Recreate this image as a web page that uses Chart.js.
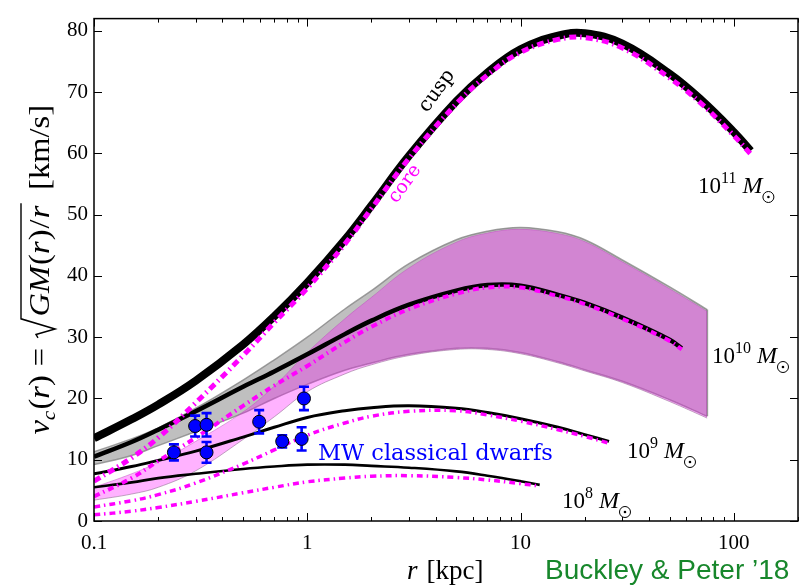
<!DOCTYPE html>
<html><head><meta charset="utf-8">
<script src="https://cdn.jsdelivr.net/npm/chart.js@4.4.1/dist/chart.umd.min.js"></script>
<style>html,body{margin:0;padding:0;background:#fff;}</style>
</head><body>
<canvas id="c" width="806" height="585"></canvas>
<script>
// ---------------- data ----------------
const r11 = [0.1,0.15,0.2,0.3,0.5,0.7,1,1.5,2,3,5,7,10,15,20,30,50,70,100,120];
const cusp11 = [13.5,16.6,19.0,22.9,28.8,33.4,38.9,45.9,51.5,59.6,68.5,73.2,77.0,79.2,79.6,77.9,73.0,68.8,63.5,60.4];
const core11 = [6.5,10.3,13.6,19.3,27.0,32.4,38.0,45.2,51.0,59.2,68.1,72.8,76.5,78.6,78.9,77.2,72.3,68.2,62.9,59.9];

const r10 = [0.1,0.15,0.2,0.3,0.5,0.7,1,1.5,2,3,5,7,10,15,20,30,50,57];
const cusp10 = [10.5,12.9,14.9,17.9,21.9,24.4,27.2,30.5,32.7,35.3,37.6,38.5,38.4,36.9,35.6,33.2,29.6,28.2];
const core10 = [4.0,7.0,9.8,13.6,18.8,22.1,25.3,29.2,31.7,34.6,37.1,38.1,38.1,36.7,35.4,33.0,29.4,28.0];

const rBand = [0.1,0.15,0.2,0.3,0.5,0.7,1,1.5,2,3,5,7,10,15,20,30,50,75];
const grayHi = [11.3,13.4,15.2,18.4,23.0,26.3,30.0,34.6,37.6,42.0,45.9,47.3,47.9,47.2,45.9,42.6,38.2,34.5];
const grayLo = [9.2,10.7,12.3,14.6,17.6,20.0,22.3,24.6,25.8,27.2,28.2,28.2,27.5,26.0,24.7,22.8,19.8,17.1];
const pinkHi = [5.5,7.7,9.6,13.0,17.8,22.0,27.5,33.0,36.5,41.3,45.5,47.0,47.6,46.9,45.6,42.3,37.9,34.2];
const pinkLo = [3.4,4.4,5.5,8.2,13.3,17.0,21.1,24.0,25.5,27.0,28.0,28.0,27.3,25.8,24.5,22.6,19.5,16.8];

const r9 = [0.1,0.15,0.2,0.3,0.5,0.7,1,1.5,2,3,5,7,10,15,20,26];
const cusp9 = [7.7,8.9,9.9,11.4,13.7,15.3,16.9,18.0,18.5,18.8,18.4,17.7,16.7,15.3,14.1,13.0];
const core9 = [2.3,3.3,4.3,6.2,9.3,11.6,14.0,16.0,17.1,17.9,18.0,17.3,16.3,14.9,13.8,12.7];

const r8 = [0.1,0.15,0.2,0.3,0.5,0.7,1,1.5,2,3,5,7,10,12.3];
const cusp8 = [5.5,6.3,7.0,7.7,8.5,8.9,9.2,9.2,9.0,8.7,8.1,7.4,6.5,5.9];
const core8 = [1.0,1.6,2.2,3.2,4.6,5.5,6.4,7.0,7.3,7.4,7.1,6.7,6.1,5.7];

const dwarfR = [0.237,0.298,0.337,0.337,0.595,0.763,0.941,0.965];
const dwarfV = [11.2,15.5,15.7,11.2,16.2,13.0,13.4,20.0];
const dwarfErr = [1.3,1.7,1.9,1.7,1.9,1.0,1.9,1.9];

const xTickVals = [0.1,1,10,100];
const yTickVals = [0,10,20,30,40,50,60,70,80];
const massExps = ['11','10','9','8'];

// ---------------- chart ----------------
const pts = (xs, ys) => xs.map((x,i)=>({x:x, y:ys[i]}));
const last = a => a[a.length-1];
const MAG = '#ff00ff';

const datasets = [
  {data: pts(rBand, grayHi), showLine:true, borderColor:'rgba(128,128,128,0.75)', borderWidth:1.5, fill:false, order:100},
  {data: pts(rBand, grayLo), showLine:true, borderColor:'rgba(128,128,128,0.75)', borderWidth:1.5, fill:0, backgroundColor:'rgba(128,128,128,0.5)', order:99},
  {data: [{x:last(rBand), y:last(grayLo)},{x:last(rBand), y:last(grayHi)}], showLine:true, borderColor:'rgba(128,128,128,0.8)', borderWidth:2, order:98, tension:0},
  {data: pts(rBand, pinkHi), showLine:true, borderColor:'rgba(170,90,170,0.45)', borderWidth:1, fill:false, order:97},
  {data: pts(rBand, pinkLo), showLine:true, borderColor:'rgba(150,110,150,0.6)', borderWidth:1, fill:3, backgroundColor:'rgba(255,0,255,0.3)', order:96},
  {data: pts(r8, cusp8), showLine:true, borderColor:'#000', borderWidth:2.6, order:50},
  {data: pts(r8, core8), showLine:true, borderColor:MAG, borderWidth:3.5, borderDash:[6,4,1.5,4], borderCapStyle:'butt', order:49},
  {data: pts(r9, cusp9), showLine:true, borderColor:'#000', borderWidth:3, order:48},
  {data: pts(r9, core9), showLine:true, borderColor:MAG, borderWidth:3.5, borderDash:[6,4,1.5,4], borderCapStyle:'butt', order:47},
  {data: pts(r10, cusp10), showLine:true, borderColor:'#000', borderWidth:4.5, order:46},
  {data: pts(r10, core10), showLine:true, borderColor:MAG, borderWidth:4, borderDash:[6,4,1.5,4], borderCapStyle:'butt', order:45},
  {data: pts(r11, cusp11), showLine:true, borderColor:'#000', borderWidth:8, order:44},
  {data: pts(r11, core11), showLine:true, borderColor:MAG, borderWidth:5, borderDash:[7,4,1.5,4], borderCapStyle:'butt', order:43},
  {data: pts(dwarfR, dwarfV), showLine:false, pointRadius:6.5, pointBackgroundColor:'#0000ff', pointBorderColor:'#000', pointBorderWidth:1, order:1}
];
const POINTS_INDEX = datasets.length - 1;

function drawSun(ctx, cx, cy, rad){
  ctx.beginPath(); ctx.arc(cx, cy, rad, 0, Math.PI*2); ctx.lineWidth = 1; ctx.strokeStyle = '#000'; ctx.stroke();
  ctx.beginPath(); ctx.arc(cx, cy, 1.3, 0, Math.PI*2); ctx.fillStyle = '#000'; ctx.fill();
}
function massLabel(ctx, exp, x, y){
  ctx.fillStyle = '#000'; ctx.textBaseline = 'alphabetic'; ctx.textAlign = 'left';
  ctx.font = '23px "Liberation Serif"';
  ctx.fillText('10', x, y); let w = ctx.measureText('10').width;
  ctx.font = '16px "Liberation Serif"';
  ctx.fillText(exp, x + w, y - 10); w += ctx.measureText(exp).width + 6;
  ctx.font = 'italic 24px "Liberation Serif"';
  ctx.fillText('M', x + w, y); w += ctx.measureText('M').width + 6;
  drawSun(ctx, x + w, y + 4, 5.5);
}

const deco = {
  id: 'deco',
  beforeDatasetDraw(chart, args){
    if (args.index !== POINTS_INDEX) return;
    const ctx = chart.ctx, xs = chart.scales.x, ys = chart.scales.y;
    ctx.save(); ctx.strokeStyle = '#0000ff'; ctx.lineWidth = 2.6;
    dwarfR.forEach((r,i)=>{
      const px = xs.getPixelForValue(r);
      const y1 = ys.getPixelForValue(dwarfV[i]-dwarfErr[i]);
      const y2 = ys.getPixelForValue(dwarfV[i]+dwarfErr[i]);
      ctx.beginPath(); ctx.moveTo(px,y1); ctx.lineTo(px,y2);
      ctx.moveTo(px-5,y1); ctx.lineTo(px+5,y1); ctx.moveTo(px-5,y2); ctx.lineTo(px+5,y2); ctx.stroke();
    });
    ctx.restore();
  },
  afterDatasetsDraw(chart){
    const ctx = chart.ctx, a = chart.chartArea, xs = chart.scales.x, ys = chart.scales.y;
    ctx.save();
    ctx.strokeStyle = '#000'; ctx.lineWidth = 1.5;
    ctx.strokeRect(a.left, a.top, a.right - a.left, a.bottom - a.top);
    ctx.lineWidth = 1;
    ctx.beginPath();
    for (let d = -1; d <= 2; d++){
      for (let m = 1; m <= 9; m++){
        const v = m * Math.pow(10, d);
        if (v < 0.1 || v > 200) continue;
        const px = Math.round(xs.getPixelForValue(v)) + 0.5;
        const L = m === 1 ? 8 : 4;
        ctx.moveTo(px, a.bottom); ctx.lineTo(px, a.bottom - L);
        ctx.moveTo(px, a.top); ctx.lineTo(px, a.top + L);
      }
    }
    yTickVals.forEach(v=>{
      const py = Math.round(ys.getPixelForValue(v)) + 0.5;
      ctx.moveTo(a.left, py); ctx.lineTo(a.left + 8, py);
      ctx.moveTo(a.right, py); ctx.lineTo(a.right - 8, py);
    });
    ctx.stroke();
    ctx.restore();
  },
  afterDraw(chart){
    const ctx = chart.ctx, a = chart.chartArea;
    ctx.save();
    // mass labels
    massLabel(ctx, massExps[0], 698, 193);
    massLabel(ctx, massExps[1], 712, 363);
    massLabel(ctx, massExps[2], 627, 458);
    massLabel(ctx, massExps[3], 562, 508);
    // cusp / core
    const ang = -54 * Math.PI / 180;
    ctx.textAlign = 'center'; ctx.textBaseline = 'middle';
    ctx.save(); ctx.translate(437, 91); ctx.rotate(ang);
    ctx.font = '20px "DejaVu Serif"'; ctx.fillStyle = '#000'; ctx.fillText('cusp', 0, 0); ctx.restore();
    ctx.save(); ctx.translate(405, 184); ctx.rotate(ang);
    ctx.font = '19px "DejaVu Serif"'; ctx.fillStyle = MAG; ctx.fillText('core', 0, 0); ctx.restore();
    // MW dwarfs
    ctx.textAlign = 'left'; ctx.textBaseline = 'alphabetic';
    ctx.font = '22.5px "DejaVu Serif"'; ctx.fillStyle = '#0000ff';
    ctx.fillText('MW classical dwarfs', 318, 460);
    // credit
    ctx.font = '28px "Liberation Sans"'; ctx.fillStyle = '#17872b';
    ctx.fillText("Buckley & Peter \u201918", 545, 579);
    // x label
    ctx.fillStyle = '#000';
    ctx.font = 'italic 27px "Liberation Serif"';
    ctx.fillText('r', 407, 579);
    let w = ctx.measureText('r').width;
    ctx.font = '27px "Liberation Serif"';
    ctx.fillText('[kpc]', 407 + w + 9, 579);
    // y label (rotated, centred on the axes)
    const I = 'italic 29px "Liberation Serif"', U = '29px "Liberation Serif"';
    const pieces = [
      ['v', I, 0, 0], ['c', 'italic 19px "Liberation Serif"', 6, 1],
      ['(', U, 0, 0], ['r', I, 0, 0], [')', U, 0, 8], ['=', U, 0, 8],
      ['RAD', null, 0, 0],
      ['G', I, 0, 0], ['M', I, 0, 1], ['(', U, 0, 0], ['r', I, 0, 1], [')', U, 0, 1], ['/', U, 0, 1], ['r', I, 0, 0],
      ['GAP', null, 0, 0],
      ['[km/s]', U, 0, 0]
    ];
    const RADW = 20, GAPW = 14;
    let total = 0;
    pieces.forEach(p => {
      if (p[0] === 'RAD') total += RADW; else if (p[0] === 'GAP') total += GAPW;
      else { ctx.font = p[1]; total += ctx.measureText(p[0]).width + p[3]; }
    });
    const yBottom = (a.top + a.bottom) / 2 + ((a.top + a.bottom) / 2 - 105);
    const span = yBottom - 105;
    ctx.save(); ctx.translate(49, yBottom); ctx.rotate(-Math.PI/2); ctx.scale(span / total, 1);
    ctx.fillStyle = '#000'; ctx.strokeStyle = '#000';
    let x = 0, radX = 0, gEnd = 0;
    pieces.forEach(p => {
      if (p[0] === 'RAD') { radX = x; x += RADW; return; }
      if (p[0] === 'GAP') { gEnd = x + 2; x += GAPW; return; }
      ctx.font = p[1]; ctx.fillText(p[0], x, p[2]); x += ctx.measureText(p[0]).width + p[3];
    });
    ctx.beginPath(); ctx.lineWidth = 1.4;
    ctx.moveTo(radX + 1, -11); ctx.lineTo(radX + 4, -13); ctx.lineTo(radX + 9, 6); ctx.lineTo(radX + 18, -28); ctx.lineTo(gEnd, -28);
    ctx.stroke();
    ctx.restore();
    ctx.restore();
  }
};

new Chart(document.getElementById('c'), {
  type: 'scatter',
  data: {datasets},
  options: {
    responsive: false, animation: false, devicePixelRatio: 1,
    layout: {padding: {left: 0, right: 8, top: 6, bottom: 0}},
    plugins: {legend: {display: false}, tooltip: {enabled: false}},
    elements: {point: {radius: 0}, line: {tension: 0.4, cubicInterpolationMode: 'default'}},
    scales: {
      x: {
        type: 'logarithmic', min: 0.1, max: 200,
        grid: {display: false, drawTicks: false}, border: {display: false},
        afterBuildTicks: s => { s.ticks = xTickVals.map(v => ({value: v})); },
        afterFit: s => { s.height = 64; },
        ticks: {callback: v => String(v), font: {family: 'Liberation Serif', size: 21}, color: '#000', padding: 10, autoSkip: false, maxRotation: 0}
      },
      y: {
        min: 0, max: 82,
        grid: {display: false, drawTicks: false}, border: {display: false},
        afterBuildTicks: s => { s.ticks = yTickVals.map(v => ({value: v})); },
        afterFit: s => { s.width = 94; },
        ticks: {font: {family: 'Liberation Serif', size: 21}, color: '#000', padding: 6, autoSkip: false}
      }
    }
  },
  plugins: [deco]
});
</script>
</body></html>
